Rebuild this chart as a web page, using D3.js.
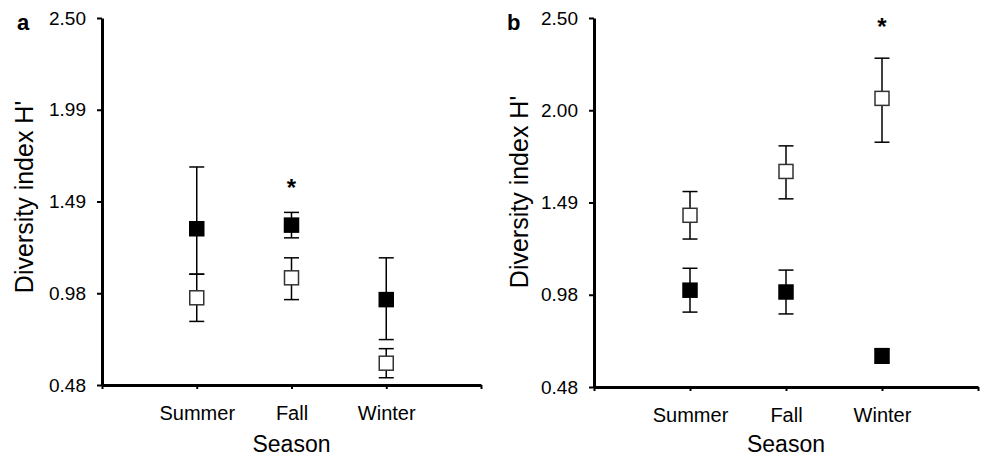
<!DOCTYPE html>
<html>
<head>
<meta charset="utf-8">
<script src="https://cdn.jsdelivr.net/npm/d3@7"></script>
<style>
  body { margin: 0; background: #fff; }
  text { font-family: "Liberation Sans", Arial, sans-serif; fill: #000; }
</style>
</head>
<body>
<script>
// Categories
let seasons = ["Summer", "Fall", "Winter"];

// Y tick labels (ticks are evenly spaced between 0.48 and 2.50)
let aTickLabels = ["0.48", "0.98", "1.49", "1.99", "2.50"];
let bTickLabels = ["0.48", "0.98", "1.49", "2.00", "2.50"];

// Panel a values
let aFilledMean = [1.34, 1.36, 0.95];
let aFilledLow = [1.09, 1.29, 0.73];
let aFilledHigh = [1.68, 1.43, 1.18];
let aOpenMean = [0.96, 1.07, 0.60];
let aOpenLow = [0.83, 0.95, 0.52];
let aOpenHigh = [1.09, 1.18, 0.68];

// Panel b values
let bFilledMean = [1.01, 1.00, 0.65];
let bFilledLow = [0.89, 0.88, 0.61];
let bFilledHigh = [1.13, 1.12, 0.69];
let bOpenMean = [1.42, 1.66, 2.06];
let bOpenLow = [1.29, 1.51, 1.82];
let bOpenHigh = [1.55, 1.80, 2.28];

// Significance markers (season, height)
let aStar = ["Fall", 1.585];
let bStar = ["Winter", 2.47];

let svgWidth = 981;
let svgHeight = 458;

let svg = d3.select("body")
    .append("svg")
    .attr("width", svgWidth)
    .attr("height", svgHeight);

function drawPanel(opts) {
    let g = svg.append("g");

    let yScale = d3.scaleLinear()
        .domain([0.48, 2.50])
        .range([opts.bottom, opts.top]);

    let xScale = d3.scaleLinear()
        .domain([0, 4])
        .range([opts.left, opts.right]);

    let tickVals = d3.range(5).map(i => 0.48 + i * 0.505);

    let yAxis = d3.axisLeft(yScale)
        .tickValues(tickVals)
        .tickSize(5)
        .tickSizeOuter(0)
        .tickPadding(11)
        .tickFormat((d, i) => opts.tickLabels[i]);

    let xAxis = d3.axisBottom(xScale)
        .tickValues([0, 1, 2, 3, 4])
        .tickSize(4)
        .tickSizeOuter(0)
        .tickPadding(17)
        .tickFormat(d => seasons[d - 1] || "");

    let yG = g.append("g")
        .attr("transform", `translate(${opts.left}, 0)`)
        .call(yAxis);
    let xG = g.append("g")
        .attr("transform", `translate(0, ${opts.bottom})`)
        .call(xAxis);

    yG.attr("font-size", 19);
    xG.attr("font-size", 20);
    [yG, xG].forEach(ax => {
        ax.attr("font-family", "'Liberation Sans', Arial, sans-serif");
        ax.select(".domain").attr("stroke", "#000").attr("stroke-width", 3);
        ax.selectAll(".tick line").attr("stroke", "#000").attr("stroke-width", 2);
        ax.selectAll(".tick text").attr("fill", "#000");
    });

    // Series: open and filled squares with error bars
    let series = [
        { mean: opts.openMean, low: opts.openLow, high: opts.openHigh, fill: "#fff" },
        { mean: opts.filledMean, low: opts.filledLow, high: opts.filledHigh, fill: "#000" }
    ];

    let cap = 7.5;
    let size = opts.size;

    series.forEach(s => {
        let rows = seasons.map((name, i) => ({ i: i + 1, m: s.mean[i], lo: s.low[i], hi: s.high[i] }));
        let eb = g.append("g").attr("stroke", "#000").attr("stroke-width", 1.5);
        eb.selectAll("line.v").data(rows).enter().append("line")
            .attr("x1", d => xScale(d.i)).attr("x2", d => xScale(d.i))
            .attr("y1", d => yScale(d.lo)).attr("y2", d => yScale(d.hi));
        eb.selectAll("line.lo").data(rows).enter().append("line")
            .attr("x1", d => xScale(d.i) - cap).attr("x2", d => xScale(d.i) + cap)
            .attr("y1", d => yScale(d.lo)).attr("y2", d => yScale(d.lo));
        eb.selectAll("line.hi").data(rows).enter().append("line")
            .attr("x1", d => xScale(d.i) - cap).attr("x2", d => xScale(d.i) + cap)
            .attr("y1", d => yScale(d.hi)).attr("y2", d => yScale(d.hi));
        s.rows = rows;
    });

    series.forEach(s => {
        g.append("g").selectAll("rect").data(s.rows).enter().append("rect")
            .attr("x", d => xScale(d.i) - size / 2)
            .attr("y", d => yScale(d.m) - size / 2)
            .attr("width", size)
            .attr("height", size)
            .attr("fill", s.fill)
            .attr("stroke", s.fill === "#fff" ? "#333" : "#000")
            .attr("stroke-width", 1.5);
    });

    // Asterisk
    g.append("text")
        .attr("x", xScale(seasons.indexOf(opts.star[0]) + 1))
        .attr("y", yScale(opts.star[1]) + 12)
        .attr("text-anchor", "middle")
        .attr("font-size", 24)
        .attr("font-weight", "bold")
        .text("*");

    // Panel letter
    g.append("text")
        .attr("x", opts.letterX)
        .attr("y", 30)
        .attr("font-size", 22)
        .attr("font-weight", "bold")
        .text(opts.letter);

    // Axis titles
    g.append("text")
        .attr("transform", `translate(${opts.titleX}, ${opts.titleY}) rotate(-90)`)
        .attr("text-anchor", "middle")
        .attr("font-size", 25)
        .text("Diversity index H'");

    g.append("text")
        .attr("x", (opts.left + opts.right) / 2)
        .attr("y", 452)
        .attr("text-anchor", "middle")
        .attr("font-size", 23)
        .text("Season");
}

drawPanel({
    left: 102, right: 481, top: 18, bottom: 385,
    tickLabels: aTickLabels,
    filledMean: aFilledMean, filledLow: aFilledLow, filledHigh: aFilledHigh,
    openMean: aOpenMean, openLow: aOpenLow, openHigh: aOpenHigh,
    star: aStar, letter: "a", letterX: 17, titleX: 33, titleY: 197, size: 14
});

drawPanel({
    left: 594, right: 978, top: 18, bottom: 387,
    tickLabels: bTickLabels,
    filledMean: bFilledMean, filledLow: bFilledLow, filledHigh: bFilledHigh,
    openMean: bOpenMean, openLow: bOpenLow, openHigh: bOpenHigh,
    star: bStar, letter: "b", letterX: 507, titleX: 528, titleY: 192, size: 14
});
</script>
</body>
</html>
